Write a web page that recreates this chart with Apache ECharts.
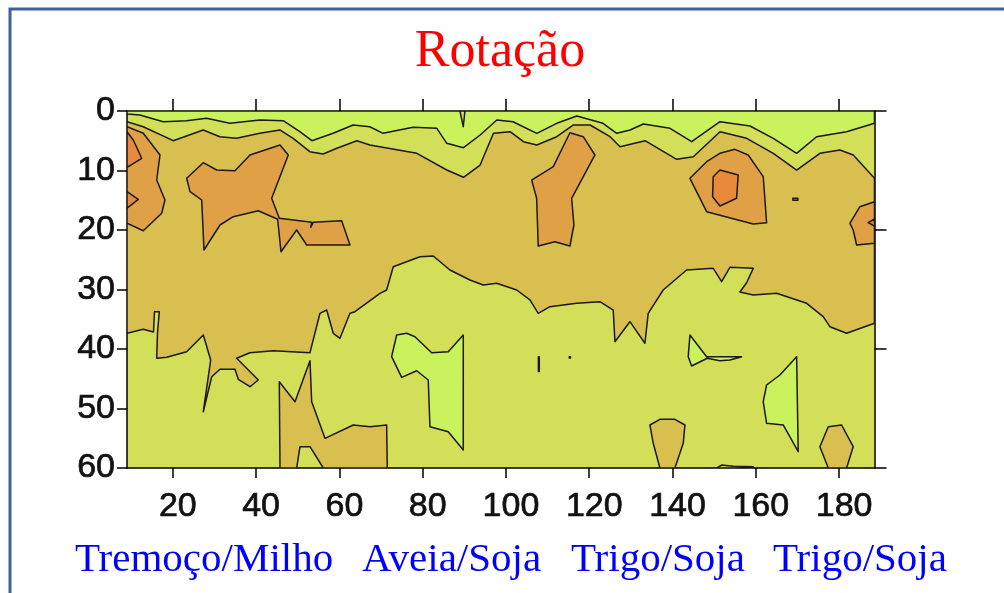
<!DOCTYPE html>
<html>
<head>
<meta charset="utf-8">
<script src="https://cdn.jsdelivr.net/npm/echarts@6/dist/echarts.min.js"></script>
<style>
  html, body { margin: 0; padding: 0; background: #ffffff; }
  #chart { width: 1004px; height: 593px; }
</style>
</head>
<body>
<div id="chart"></div>
<script>
// Contour map of a soil property: distance along the transect (x) against depth (y, cm).
// Each region is an outline in data units [distance, depth]; levels go from light green to dark orange.

const TITLE = 'Rotação';
const CROPS = ['Tremoço/Milho', 'Aveia/Soja', 'Trigo/Soja', 'Trigo/Soja'];
const X_TICKS = [20, 40, 60, 80, 100, 120, 140, 160, 180];
const X_RANGE = [9, 188.5];
const DEPTH_RANGE = [0, 60];

// Level colours, lowest to highest
const LEVEL_COLORS = ['#c9f25c', '#d3df58', '#d8bf50', '#e0a046', '#e9893c'];

// Upper boundary of the surface band (level 1 above it)
const lineA = [[9,0.5],[12.1,0.67],[17.7,1.8],[23.3,1.63],[28.1,1.23],[33.7,2.07],[40.9,1.51],[46.5,1.63],[50.5,3.48],[53.4,4.99],[58.5,3.75],[63.3,2.35],[67.3,2.64],[70.5,3.75],[77.7,2.74],[83.4,2.91],[85.8,5.43],[89.8,6.17],[93.8,4.03],[97.8,1.51],[101.7,1.8],[107.4,3.75],[112.2,2.07],[117,0.84],[123.3,2.07],[126.6,3.75],[129.8,3.19],[133,2.18],[139.4,2.91],[144.6,5.16],[151.4,1.8],[158.6,2.52],[164.2,4.59],[169.8,7.11],[174.6,4.32],[181.8,3.48],[188.5,2.07]];

// Upper boundary of the level-3 layer
const lineB = [[9,1.8],[12.9,2.64],[20.1,4.99],[27.3,3.19],[31.3,4.32],[35.3,4.59],[40.9,3.75],[45.7,3.19],[48.9,4.59],[52.9,6.84],[56.1,7.23],[59.4,6.27],[64.2,4.99],[67.3,5.71],[78.6,7.11],[85.8,9.92],[89.8,11.14],[93.8,9.08],[97,3.75],[101,3.48],[104.2,5.16],[107.4,5.71],[112.2,4.32],[116.2,2.35],[120.2,2.35],[125,4.32],[127.4,6.0],[133.4,4.99],[141,8.12],[145,7.68],[151.4,3.48],[157.8,4.59],[164.2,7.11],[169.8,9.92],[175.4,7.11],[180.2,6.55],[183.4,7.39],[188.5,11.31]];

// Lower boundary of the level-3 layer
const lineC = [[9,37.36],[12.9,36.69],[15.36,37.14],[15.6,33.73],[16.76,33.73],[16.32,37.31],[16.13,41.56],[18.53,41.39],[23.33,40.45],[27.32,37.65],[29.1,41.85],[27.32,50.54],[29.34,44.66],[31.33,43.41],[34.93,43.41],[35.72,45.09],[38.53,46.34],[40.53,45.21],[35.34,41.56],[38.53,40.62],[44.13,40.29],[52.94,40.62],[55.34,34.0],[56.95,33.45],[58.53,37.36],[60.14,38.2],[62.54,34.0],[63.74,33.73],[69.75,30.64],[71.35,30.08],[72.94,26.17],[79.35,24.49],[82.54,24.37],[86.55,26.72],[91.35,28.4],[94.55,29.24],[97.77,28.96],[102.57,30.08],[105.76,31.76],[107.75,34.0],[110.56,32.89],[116.97,32.32],[122.57,32.05],[125.76,33.45],[126.17,38.77],[129.77,35.41],[133.37,39.04],[134.16,34.0],[137.76,30.08],[143.38,26.72],[149.77,26.44],[151.79,28.69],[153.78,26.27],[159.37,26.44],[157.79,28.86],[156.18,30.42],[159.37,30.92],[164.99,30.64],[172.2,32.32],[176.18,34.57],[177.79,36.25],[181.8,37.36],[188.5,35.68]];

// Level 2 notch at the surface
const level2Notch = [[88.95,0],[89.75,2.64],[90.15,0]];

// Level 4 patches
const level4Left = [[9,2.64],[12.91,3.75],[16.92,7.39],[16.13,11.6],[18.12,14.96],[17.33,17.19],[12.91,20.12],[9,18.87]];
const level4At40 = [[23.33,11.31],[27.32,8.69],[30.54,9.92],[34.93,10.03],[38.53,7.39],[45.74,5.71],[47.73,7.39],[43.74,14.67],[45.57,18.03],[53.35,18.71],[53.11,19.55],[53.73,18.71],[60.55,18.44],[62.54,22.52],[52.15,22.52],[49.74,20.0],[45.98,23.65],[45.18,18.2],[40.53,16.76],[34.52,17.76],[31.33,19.16],[27.49,23.36],[26.94,14.96],[24.13,13.56]];
const level4At115 = [[106.17,11.6],[111.36,9.36],[115.36,3.65],[118.56,4.32],[121.37,7.39],[115.77,14.67],[116.32,19.16],[115.36,22.69],[111.76,21.97],[107.75,22.69],[107.37,14.67]];
const level4At150 = [[144.18,11.31],[148.19,8.52],[151.38,7.11],[154.98,6.44],[158.17,7.39],[161.78,11.04],[162.59,18.77],[159.37,18.99],[148.19,16.92]];
const level4Right = [[182.59,18.87],[184.99,16.08],[188.5,15.24],[188.5,22.24],[184.2,22.52],[183.38,20.0]];
const level4Dash = [[168.9,14.65],[170.1,14.65],[170.1,15.0],[168.9,15.0]];

// Level 5 cores
const level5LeftUpper = [[9,3.48],[10.51,4.87],[12.53,7.95],[9.31,9.36],[9,9.36]];
const level5LeftLower = [[9,13.56],[11.71,14.84],[9,16.35]];
const level5At150 = [[149.77,11.04],[151.38,9.92],[155.77,10.76],[155.38,14.67],[151.38,15.97],[149.62,14.4]];
const level5Right = [[186.98,18.77],[188.5,18.15],[188.5,19.33]];

// Level 3 patches in the deep layer
const level3Deep50 = [[45.57,45.5],[45.74,60],[49.74,60],[50.54,56.42],[52.94,56.42],[56.13,60],[71.5,60],[71.35,52.77],[67.34,53.06],[63.33,52.77],[56.54,55.01],[53.35,48.86],[52.94,41.97],[49.34,48.86]];
const level3Deep140 = [[134.57,52.77],[136.97,51.82],[140.57,51.82],[142.98,52.77],[142.57,55.85],[140.57,60],[136.97,60],[135.37,55.85]];
const level3Deep180 = [[175.39,56.42],[177.39,53.06],[180.6,52.77],[183.38,56.42],[181.8,60],[177.39,60]];
const level3Sliver = [[150.6,60],[151.8,59.5],[154.6,59.7],[159.4,59.8],[159.4,60]];

// Level 1 patches in the deep layer
const level1Deep85 = [[73.75,37.65],[76.16,37.36],[78.15,37.93],[82.16,40.62],[86.14,40.45],[89.75,37.65],[89.75,56.97],[86.14,53.9],[81.75,53.06],[81.34,45.21],[78.56,43.65],[74.96,44.76],[72.55,41.29]];
const level1Deep150 = [[144.18,37.65],[148.19,41.29],[156.59,41.29],[153.78,41.85],[151.38,41.97],[148.33,41.56],[144.58,42.86],[143.77,41.29]];
const level1Deep167 = [[169.8,41.29],[170.18,57.26],[166.58,52.77],[162.59,52.49],[161.78,48.86],[162.59,46.05],[165.79,44.37]];
const level1Tick108 = [[107.8,41.3],[108.0,41.3],[108.0,43.8],[107.8,43.8]];
const level1Dot115 = [[115.2,41.3],[115.5,41.3],[115.5,41.5],[115.2,41.5]];

// Drawing order: later shapes sit on top
const topBand = [[X_RANGE[0], 0]].concat(lineA, [[X_RANGE[1], 0]]);
const midBand = lineB.concat(lineC.slice().reverse());

const shapes = [
  { level: 1, pts: topBand },
  { level: 2, pts: level2Notch },
  { level: 3, pts: midBand },
  { level: 4, pts: level4Left },
  { level: 4, pts: level4At40 },
  { level: 4, pts: level4At115 },
  { level: 4, pts: level4At150 },
  { level: 4, pts: level4Right },
  { level: 4, pts: level4Dash },
  { level: 5, pts: level5LeftUpper },
  { level: 5, pts: level5LeftLower },
  { level: 5, pts: level5At150 },
  { level: 5, pts: level5Right },
  { level: 3, pts: level3Deep50 },
  { level: 3, pts: level3Deep140 },
  { level: 3, pts: level3Deep180 },
  { level: 3, pts: level3Sliver },
  { level: 1, pts: level1Deep85 },
  { level: 1, pts: level1Deep150 },
  { level: 1, pts: level1Deep167 },
  { level: 1, pts: level1Tick108 },
  { level: 1, pts: level1Dot115 }
];

const chart = echarts.init(document.getElementById('chart'), null, { renderer: 'canvas' });

const axisLineStyle = { color: '#000000', width: 1.5 };
const tickFont = {
  fontFamily: 'Liberation Sans, Arial, sans-serif', fontSize: 34, color: '#111111',
  textBorderColor: '#111111', textBorderWidth: 0.7
};

chart.setOption({
  animation: false,
  backgroundColor: '#ffffff',
  grid: {
    left: 127, top: 111, width: 747.5, height: 357,
    show: true, backgroundColor: LEVEL_COLORS[1], borderWidth: 0
  },
  xAxis: [
    {
      type: 'value', position: 'bottom', min: X_RANGE[0], max: X_RANGE[1],
      axisLine: { show: true, onZero: false, lineStyle: axisLineStyle },
      axisTick: { show: true, length: 10, customValues: X_TICKS, lineStyle: axisLineStyle },
      axisLabel: Object.assign({ show: true, customValues: X_TICKS, margin: 22, padding: [0, 0, 0, 10] }, tickFont),
      splitLine: { show: false }
    },
    {
      type: 'value', position: 'top', min: X_RANGE[0], max: X_RANGE[1],
      axisLine: { show: true, onZero: false, lineStyle: axisLineStyle },
      axisTick: { show: true, length: 12, customValues: X_TICKS, lineStyle: axisLineStyle },
      axisLabel: { show: false },
      splitLine: { show: false }
    }
  ],
  yAxis: [
    {
      type: 'value', position: 'left', inverse: true, min: DEPTH_RANGE[0], max: DEPTH_RANGE[1], interval: 10,
      axisLine: { show: true, onZero: false, lineStyle: axisLineStyle },
      axisTick: { show: true, length: 10, lineStyle: axisLineStyle },
      axisLabel: Object.assign({ show: true, margin: 12, padding: [8, 0, 0, 0] }, tickFont),
      splitLine: { show: false }
    },
    {
      type: 'value', position: 'right', inverse: true, min: DEPTH_RANGE[0], max: DEPTH_RANGE[1], interval: 20,
      axisLine: { show: true, onZero: false, lineStyle: axisLineStyle },
      axisTick: { show: true, length: 12, lineStyle: axisLineStyle },
      axisLabel: { show: false },
      splitLine: { show: false }
    }
  ],
  series: [
    {
      type: 'custom',
      coordinateSystem: 'cartesian2d',
      xAxisIndex: 0,
      yAxisIndex: 0,
      clip: true,
      silent: true,
      data: shapes.map(function (s) { return [s.pts[0][0], s.pts[0][1]]; }),
      renderItem: function (params, api) {
        const s = shapes[params.dataIndex];
        const points = s.pts.map(function (p) { return api.coord(p); });
        return {
          type: 'polygon',
          shape: { points: points },
          style: { fill: LEVEL_COLORS[s.level - 1], stroke: '#1a1a1a', lineWidth: 1.5, lineJoin: 'round' }
        };
      }
    }
  ],
  graphic: [
    {
      type: 'rect', silent: true, z: 100,
      shape: { x: 10, y: 9, width: 1100, height: 700 },
      style: { fill: 'none', stroke: '#3f6296', lineWidth: 3 }
    },
    {
      type: 'text', silent: true, x: 500, y: 52,
      style: { text: TITLE, fill: '#ff0000', fontFamily: 'Liberation Serif, Times New Roman, serif', fontSize: 52, align: 'center', verticalAlign: 'middle' }
    },
    { type: 'text', silent: true, x: 75, y: 560,
      style: { text: CROPS[0], fill: '#0000ff', fontFamily: 'Liberation Serif, Times New Roman, serif', fontSize: 41, align: 'left', verticalAlign: 'middle' } },
    { type: 'text', silent: true, x: 362, y: 560,
      style: { text: CROPS[1], fill: '#0000ff', fontFamily: 'Liberation Serif, Times New Roman, serif', fontSize: 41, align: 'left', verticalAlign: 'middle' } },
    { type: 'text', silent: true, x: 571, y: 560,
      style: { text: CROPS[2], fill: '#0000ff', fontFamily: 'Liberation Serif, Times New Roman, serif', fontSize: 41, align: 'left', verticalAlign: 'middle' } },
    { type: 'text', silent: true, x: 773, y: 560,
      style: { text: CROPS[3], fill: '#0000ff', fontFamily: 'Liberation Serif, Times New Roman, serif', fontSize: 41, align: 'left', verticalAlign: 'middle' } }
  ]
});
</script>
</body>
</html>
